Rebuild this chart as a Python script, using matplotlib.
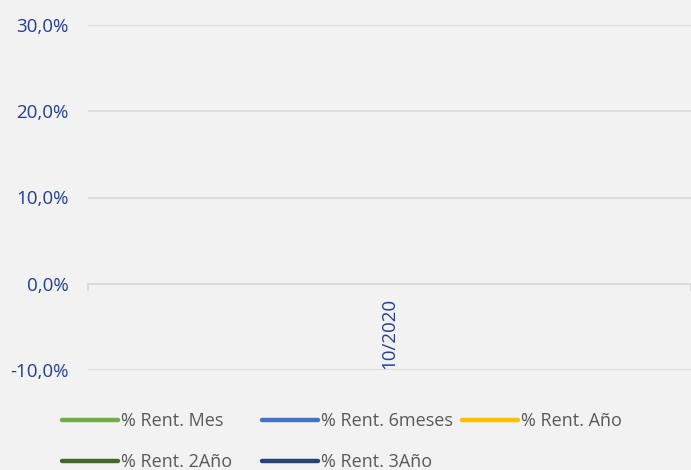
import matplotlib
matplotlib.use("Agg")
import matplotlib.pyplot as plt
from matplotlib.lines import Line2D
import numpy as np

categories = ["10/2020"]
series_names = ["% Rent. Mes", "% Rent. 6meses", "% Rent. Año", "% Rent. 2Año", "% Rent. 3Año"]
series_values = {
    "% Rent. Mes": [np.nan],
    "% Rent. 6meses": [np.nan],
    "% Rent. Año": [np.nan],
    "% Rent. 2Año": [np.nan],
    "% Rent. 3Año": [np.nan],
}
colors = ["#70AD47", "#4472C4", "#FFC000", "#43682B", "#264478"]
yticks = [-10, 0, 10, 20, 30]
ytick_labels = ["-10,0%", "0,0%", "10,0%", "20,0%", "30,0%"]

plt.rcParams['font.family'] = ['Open Sans', 'DejaVu Sans']
bg = "#F2F2F2"
fig = plt.figure(figsize=(6.91, 4.70), dpi=100, facecolor=bg)
ax = fig.add_axes([88/691, 1-370/470, 1-88/691, (370-25)/470])
ax.set_facecolor(bg)

x = np.arange(len(categories))
for name, c in zip(series_names, colors):
    ax.plot(x, series_values[name], color=c, lw=3.5, solid_capstyle='round')

ax.set_xlim(-0.5, len(categories)-0.5)
ax.set_ylim(-10, 30)
ax.set_yticks(yticks)
ax.set_yticklabels(ytick_labels)
ax.yaxis.grid(True, color="#D9D9D9", lw=1.2)
ax.set_axisbelow(True)
ax.tick_params(axis='y', length=0, pad=14, labelsize=13.5, labelcolor="#203F8F")
for s in ['top', 'right', 'left']:
    ax.spines[s].set_visible(False)
ax.spines['bottom'].set_position(('data', 0))
ax.spines['bottom'].set_color("#D9D9D9")
ax.spines['bottom'].set_linewidth(1.2)
ax.set_xticks(x)
ax.set_xticklabels(categories, rotation=90, va='top', ha='center')
ax.tick_params(axis='x', which='major', length=0, pad=10, labelsize=13.5, labelcolor="#203F8F")
ax.set_xticks([-0.5, len(categories)-0.5], minor=True)
ax.tick_params(axis='x', which='minor', length=5, width=1.2, color="#D9D9D9")

fs = 13
pos = [(62, 421), (262, 421), (462, 421), (62, 462), (262, 462)]
for (px, py), name, c in zip(pos, series_names, colors):
    h = Line2D([0], [0], color=c, lw=3.2, solid_capstyle='round')
    fig.legend([h], [name], loc='center left', bbox_to_anchor=(px/691, 1-py/470),
               frameon=False, borderpad=0, borderaxespad=0, handlelength=3.1,
               handletextpad=0.17, fontsize=fs, labelcolor="#595959")

fig.savefig("out.png", dpi=100, facecolor=bg)
